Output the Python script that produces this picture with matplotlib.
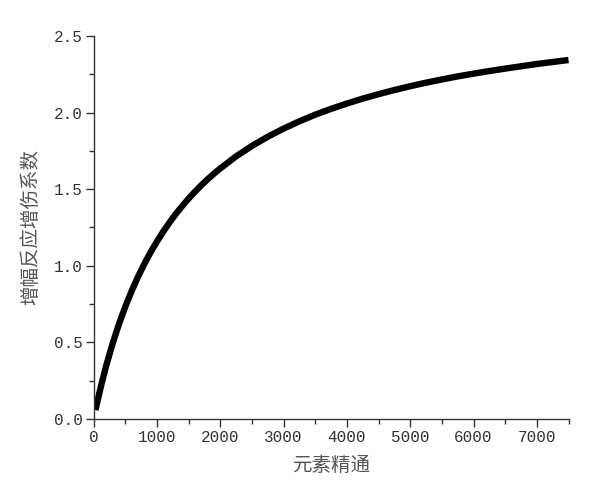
import matplotlib
matplotlib.use("Agg")
import matplotlib.pyplot as plt
from matplotlib.ticker import MultipleLocator

plt.rcParams['font.family'] = ['Noto Sans CJK SC', 'DejaVu Sans']

# Data
mastery = [30, 50, 75, 100, 125, 150, 175, 200, 250, 300, 350, 400, 450, 500,
           600, 700, 800, 900, 1000, 1100, 1200, 1300, 1400, 1500, 1600, 1700,
           1800, 1900, 2000, 2250, 2500, 2750, 3000, 3250, 3500, 3750, 4000,
           4250, 4500, 4750, 5000, 5250, 5500, 5750, 6000, 6250, 6500, 6750,
           7000, 7250, 7500]
coef = [0.058, 0.096, 0.141, 0.185, 0.228, 0.269, 0.309, 0.348, 0.421, 0.491,
        0.556, 0.618, 0.676, 0.732, 0.834, 0.927, 1.011, 1.088, 1.158, 1.223,
        1.283, 1.339, 1.390, 1.438, 1.483, 1.525, 1.564, 1.601, 1.635, 1.714,
        1.782, 1.842, 1.895, 1.943, 1.986, 2.024, 2.059, 2.091, 2.120, 2.147,
        2.172, 2.195, 2.216, 2.236, 2.254, 2.271, 2.287, 2.302, 2.317, 2.330,
        2.343]
xticks = [0, 1000, 2000, 3000, 4000, 5000, 6000, 7000]
yticks = [0.0, 0.5, 1.0, 1.5, 2.0, 2.5]
xlabel = "元素精通"
ylabel = "增幅反应增伤系数"

fig = plt.figure(figsize=(6.0, 4.86), dpi=100)
ax = fig.add_axes([0.156, 0.138, 0.7915, 0.788])
ax.plot(mastery, coef, color='black', linewidth=4.6, solid_capstyle='butt',
        solid_joinstyle='round')

ax.set_xlim(0, 7500)
ax.set_ylim(0, 2.5)
ax.set_xticks(xticks)
ax.set_yticks(yticks)
ax.xaxis.set_minor_locator(MultipleLocator(500))
ax.yaxis.set_minor_locator(MultipleLocator(0.25))
ax.set_xticklabels([str(v) for v in xticks], family='Liberation Mono', fontsize=11.5, color='#333333')
ax.set_yticklabels(["%.1f" % v for v in yticks], family='Liberation Mono', fontsize=11.5, color='#333333')

for s in ['top', 'right']:
    ax.spines[s].set_visible(False)
for s in ['left', 'bottom']:
    ax.spines[s].set_color('#333333')
    ax.spines[s].set_linewidth(1.0)

ax.tick_params(which='major', direction='out', length=6, width=1, color='#333333', pad=2)
ax.tick_params(which='minor', direction='out', length=3.5, width=1, color='#333333')

ax.set_xlabel(xlabel, fontsize=14, color='#555555', labelpad=7)
ax.set_ylabel(ylabel, fontsize=14, color='#555555', labelpad=9)

fig.savefig("out.png", dpi=100, facecolor='white')
